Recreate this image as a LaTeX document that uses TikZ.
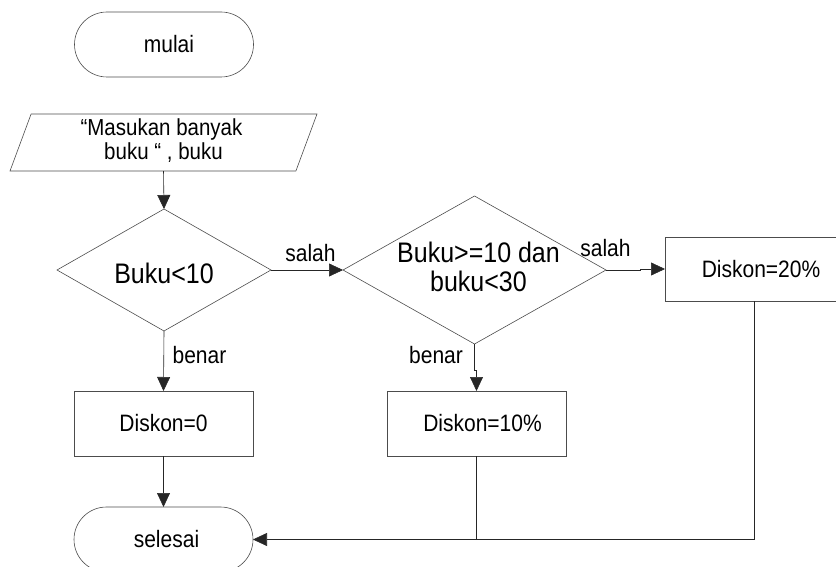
\documentclass[tikz,border=0pt]{standalone}
\usepackage{fontspec}
\usepackage{graphicx}
\setmainfont{Liberation Sans}
\usetikzlibrary{shapes.geometric,shapes.misc,arrows.meta}
% text in this chart is set slightly taller than its natural proportions
\newcommand\tallt[1]{\scalebox{1}[1.13]{#1}}
\newcommand\tallstack[1]{\tallt{\begin{tabular}{@{}c@{}}#1\end{tabular}}}
\begin{document}
\begin{tikzpicture}[x=1pt,y=-1pt,
  every node/.style={inner sep=0pt,outer sep=0pt},
  shapeline/.style={draw=black!70,line width=0.6pt},
  terminal/.style={shapeline,rounded rectangle,minimum width=179pt,minimum height=65pt,font=\fontsize{21}{24}\selectfont},
  iobox/.style={shapeline,trapezium,trapezium left angle=67,trapezium right angle=113,trapezium stretches body,
                minimum width=307pt,minimum height=57pt,font=\fontsize{20.5}{22}\selectfont},
  decision/.style={shapeline,diamond,aspect=1.75},
  dectext/.style={font=\fontsize{25}{25}\selectfont},
  process/.style={shapeline,rectangle,minimum width=179pt,minimum height=65pt,font=\fontsize{21}{24}\selectfont},
  edgelabel/.style={font=\fontsize{21}{24}\selectfont},
  flow/.style={draw=black!85,line width=0.6pt,-{Triangle[length=14pt,width=13pt]}},
  plainline/.style={draw=black!85,line width=0.6pt}]
\useasboundingbox (0,0) rectangle (836,567);
\begin{scope}
\clip (0,0) rectangle (836,567);

% start / input
\node[terminal] (mulai) at (164,44.5) {\hspace*{10pt}\tallt{mulai}};
\node[iobox] (input) at (163.5,142.5) {\tallstack{\hspace*{-4pt}“Masukan banyak\\ buku “ , buku}};

% decisions
\node[decision,minimum width=214pt,minimum height=122pt] (d1) at (164,270) {};
\node[dectext] (t1) at ([yshift=-3pt]d1.center) {\tallt{Buku<10}};
\node[decision,minimum width=263pt,minimum height=148pt] (d2) at (474.5,270) {};
\node[dectext] (t2) at ([xshift=4pt,yshift=-1pt]d2.center) {\tallstack{Buku>=10 dan\\ buku<30}};

% processes
\node[process] (p0) at (163.5,423.5) {\tallt{Diskon=0}};
\node[process] (p10) at (476.5,423.5) {\hspace*{12pt}\tallt{Diskon=10\%}};
\node[process,minimum width=192pt,minimum height=64pt] (p20) at (761,269) {\tallt{Diskon=20\%}};

% end
\node[terminal] (selesai) at (163.5,539.5) {\hspace*{6pt}\tallt{selesai}};

% connectors
\draw[flow] (input.south) -- (d1.north);
\draw[flow] (d1.east) -- (d2.west);
\draw[flow] (d1.south) -- (p0.north);
\draw[flow] (d2.south) -- ++(0,26) -| (p10.north);
\draw[flow] (d2.east) -- ++(34,0) |- (p20.west);
\draw[flow] (p0.south) -- (selesai.north);
\coordinate (join) at (p10.south |- selesai.east);
\draw[plainline] (p10.south) -- (join);
\draw[flow] ([xshift=-7pt]p20.south) |- (selesai.east);

% branch labels
\node[edgelabel] (ls1) at (310.5,253) {\tallt{salah}};
\node[edgelabel] (ls2) at (605.5,248) {\tallt{salah}};
\node[edgelabel] (lb1) at (199.5,355) {\tallt{benar}};
\node[edgelabel] (lb2) at (436,355) {\tallt{benar}};
\end{scope}
\end{tikzpicture}
\end{document}
